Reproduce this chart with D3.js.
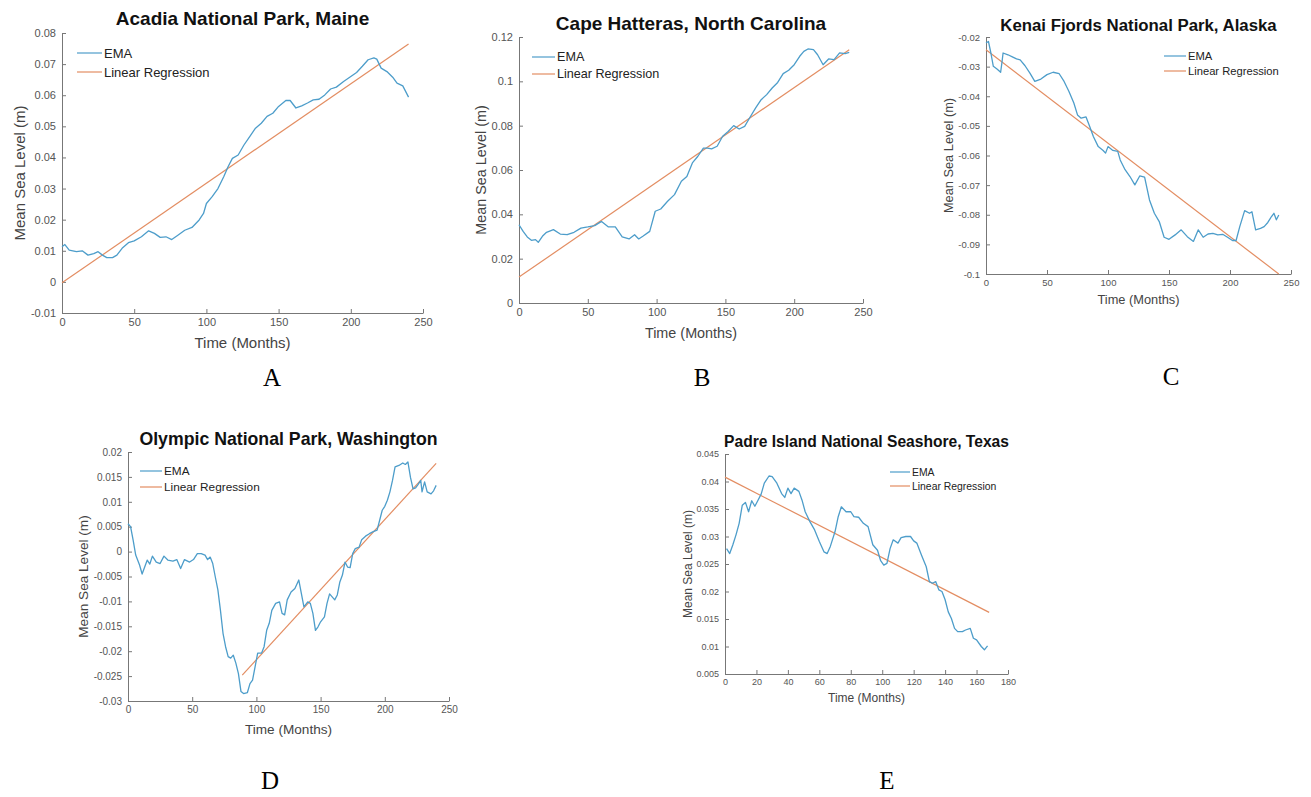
<!DOCTYPE html>
<html>
<head>
<meta charset="utf-8">
<script src="https://cdn.jsdelivr.net/npm/d3@7/dist/d3.min.js"></script>
<style>
  body { margin: 0; background: #fff; }
  text { font-family: "Liberation Sans", Arial, sans-serif; }
</style>
</head>
<body>
<script>
// page
const width = 1311, height = 797;

// data: [month, metres]
const acadiaEma = [[0,0.0113],[2,0.012],[5,0.0102],[10,0.0097],[14,0.01],[18,0.0086],[22,0.0091],[25,0.0097],[28,0.0086],
  [31,0.0078],[35,0.0078],[38,0.0086],[42,0.011],[46,0.0126],[50,0.0132],[55,0.0145],[60,0.0164],[64,0.0156],[68,0.0143],
  [72,0.0145],[76,0.0136],[80,0.0149],[85,0.0166],[90,0.0175],[95,0.0199],[98,0.022],[100,0.0252],[104,0.0274],[108,0.03],
  [112,0.0338],[115,0.037],[118,0.0397],[122,0.0408],[126,0.044],[130,0.0467],[134,0.0494],[138,0.051],[142,0.0532],
  [146,0.0542],[150,0.0564],[155,0.0583],[158,0.0583],[162,0.0559],[166,0.0566],[170,0.0575],[174,0.0585],[178,0.0587],
  [182,0.0601],[186,0.062],[190,0.0626],[195,0.0644],[200,0.066],[204,0.0673],[208,0.0693],[212,0.0714],[216,0.072],
  [218,0.0716],[221,0.0687],[225,0.0676],[229,0.0658],[232,0.0639],[236,0.063],[240,0.0594]];
const acadiaTrend = [[0,-0.0003],[240,0.0765]];

const hatterasEma = [[0,0.0353],[3,0.0323],[6,0.0298],[9,0.0283],[12,0.0286],[14,0.0274],[17,0.0301],[20,0.0319],[25,0.0331],
  [30,0.0311],[35,0.0308],[40,0.0319],[45,0.0338],[50,0.0343],[55,0.0349],[60,0.0368],[65,0.0343],[70,0.0343],[75,0.0298],
  [80,0.0289],[84,0.0308],[87,0.0289],[90,0.0301],[95,0.0323],[99,0.0414],[103,0.0424],[108,0.0459],[113,0.0489],
  [118,0.0549],[122,0.0571],[126,0.0632],[130,0.0662],[134,0.0699],[137,0.0699],[140,0.0695],[144,0.0707],[148,0.0752],
  [152,0.0774],[156,0.08],[160,0.0785],[164,0.0797],[168,0.0839],[172,0.088],[176,0.0917],[180,0.094],[184,0.097],
  [188,0.0995],[192,0.1035],[196,0.105],[200,0.1075],[204,0.1113],[207,0.1135],[210,0.1146],[214,0.1143],[217,0.112],
  [221,0.1075],[225,0.1101],[229,0.1098],[233,0.1128],[237,0.1125],[240,0.1131]];
const hatterasTrend = [[0,0.0117],[240,0.1143]];

const kenaiEma = [[0,-0.022],[2,-0.0215],[4,-0.0254],[6,-0.0299],[9,-0.0308],[12,-0.0319],[13,-0.0288],[14,-0.0254],
  [18,-0.026],[22,-0.0268],[25,-0.0274],[28,-0.0277],[32,-0.0297],[36,-0.0322],[40,-0.035],[45,-0.0342],[50,-0.0327],
  [55,-0.0319],[60,-0.0324],[64,-0.035],[68,-0.0384],[72,-0.0423],[75,-0.0463],[78,-0.0474],[82,-0.047],[85,-0.0502],
  [88,-0.0536],[92,-0.057],[96,-0.0583],[98,-0.0592],[100,-0.057],[104,-0.0583],[108,-0.0586],[110,-0.0615],[114,-0.0648],
  [118,-0.0671],[122,-0.0699],[126,-0.0669],[130,-0.0673],[134,-0.075],[138,-0.0795],[142,-0.0823],[146,-0.0876],
  [150,-0.0883],[155,-0.0868],[160,-0.0851],[165,-0.0874],[170,-0.089],[174,-0.0851],[178,-0.0876],[182,-0.0865],
  [186,-0.0863],[190,-0.0868],[194,-0.0866],[198,-0.0876],[202,-0.0887],[205,-0.0887],[208,-0.084],[212,-0.0786],
  [216,-0.0795],[218,-0.079],[221,-0.0851],[225,-0.0846],[228,-0.084],[231,-0.0826],[234,-0.0806],[236,-0.0795],
  [238,-0.0817],[240,-0.0801]];
const kenaiTrend = [[0,-0.0243],[240,-0.1]];

const olympicEma = [[0,0.0056],[2,0.005],[4,0.0023],[6,-0.0007],[9,-0.0027],[11,-0.0045],[13,-0.0031],[15,-0.0017],
  [17,-0.0025],[19,-0.0009],[22,-0.0021],[25,-0.0024],[28,-0.0009],[31,-0.0017],[35,-0.0019],[38,-0.0016],[41,-0.0034],
  [44,-0.0016],[48,-0.0021],[51,-0.0016],[54,-0.0004],[57,-0.0004],[60,-0.0007],[62,-0.0016],[64,-0.0011],[66,-0.0024],
  [68,-0.0051],[70,-0.0077],[72,-0.0118],[74,-0.0164],[76,-0.0191],[78,-0.0211],[80,-0.0214],[82,-0.0208],[84,-0.0224],
  [86,-0.0245],[88,-0.0281],[90,-0.0285],[93,-0.0283],[95,-0.0265],[97,-0.0258],[99,-0.0231],[101,-0.0204],[104,-0.0204],
  [106,-0.0191],[108,-0.0158],[110,-0.0144],[112,-0.0118],[115,-0.0104],[118,-0.0101],[120,-0.0124],[122,-0.0127],
  [124,-0.0097],[127,-0.0081],[130,-0.0074],[133,-0.0057],[135,-0.0084],[137,-0.0111],[140,-0.0101],[142,-0.0104],
  [144,-0.0124],[146,-0.0158],[148,-0.0151],[150,-0.0141],[153,-0.0131],[155,-0.0104],[157,-0.0085],[159,-0.0091],
  [161,-0.0097],[163,-0.0087],[165,-0.0061],[167,-0.0047],[169,-0.0021],[171,-0.0031],[173,-0.0032],[175,-0.0004],
  [177,0.0006],[180,0.0009],[182,0.0024],[185,0.0031],[188,0.0036],[191,0.004],[194,0.0043],[196,0.0063],[198,0.0083],
  [200,0.0091],[202,0.0103],[204,0.012],[206,0.0143],[208,0.017],[211,0.0173],[214,0.0178],[216,0.0175],[218,0.018],
  [220,0.0149],[222,0.0126],[224,0.0128],[226,0.0135],[228,0.0143],[229,0.012],[231,0.014],[233,0.012],[236,0.0116],
  [238,0.0122],[240,0.0133]];
const olympicTrend = [[89,-0.0248],[240,0.0177]];

const padreEma = [[1,0.0278],[3,0.0269],[5,0.0285],[7,0.0303],[9,0.0324],[11,0.0357],[13,0.0362],[15,0.0345],[17,0.0365],
  [19,0.0355],[21,0.0366],[23,0.0377],[25,0.0397],[28,0.041],[30,0.0409],[33,0.0397],[36,0.0378],[38,0.0371],[40,0.0388],
  [42,0.0378],[44,0.0388],[47,0.0382],[49,0.0366],[51,0.0345],[54,0.0327],[57,0.0312],[60,0.0291],[63,0.0272],[65,0.0269],
  [67,0.0282],[70,0.0309],[72,0.0336],[74,0.0354],[77,0.0345],[80,0.0345],[82,0.0336],[85,0.0335],[88,0.0324],[91,0.0318],
  [94,0.0285],[97,0.0275],[99,0.0256],[101,0.0248],[103,0.0251],[105,0.0278],[107,0.0294],[110,0.0288],[112,0.0298],
  [115,0.03],[118,0.03],[120,0.0292],[122,0.0288],[125,0.0266],[128,0.0245],[130,0.0218],[132,0.0215],[134,0.0218],
  [136,0.0203],[138,0.02],[140,0.0185],[142,0.0163],[144,0.0151],[146,0.0133],[148,0.0127],[151,0.0127],[153,0.013],
  [156,0.0133],[158,0.0115],[160,0.0112],[163,0.01],[165,0.0094],[167,0.0101]];
const padreTrend = [[0,0.0408],[168,0.0162]];

// titles and tick labels
const titles = ["Acadia National Park, Maine", "Cape Hatteras, North Carolina", "Kenai Fjords National Park, Alaska",
  "Olympic National Park, Washington", "Padre Island National Seashore, Texas"];
const letters = ["A", "B", "C", "D", "E"];
const seriesNames = ["EMA", "Linear Regression"];
const monthTicks250 = [0, 50, 100, 150, 200, 250];
const monthTicks180 = [0, 20, 40, 60, 80, 100, 120, 140, 160, 180];
const acadiaTicks = [-0.01, 0, 0.01, 0.02, 0.03, 0.04, 0.05, 0.06, 0.07, 0.08];
const hatterasTicks = [0, 0.02, 0.04, 0.06, 0.08, 0.1, 0.12];
const kenaiTicks = [-0.1, -0.09, -0.08, -0.07, -0.06, -0.05, -0.04, -0.03, -0.02];
const olympicTicks = [-0.03, -0.025, -0.02, -0.015, -0.01, -0.005, 0, 0.005, 0.01, 0.015, 0.02];
const padreTicks = [0.005, 0.01, 0.015, 0.02, 0.025, 0.03, 0.035, 0.04, 0.045];

// colours
const emaColor = "#4d9dca", trendColor = "#e38d62";

// elements
const svg = d3.select("body").append("svg")
  .attr("width", width)
  .attr("height", height);

const panels = [
  { ema: acadiaEma, trend: acadiaTrend, xTicks: monthTicks250, yTicks: acadiaTicks,
    box: [62, 423, 33, 313], titleY: 25, titleSize: 19, tick: 11, label: 15, ylabelX: 20, xlabelY: 343,
    legend: [77, 102, 53, 19, 13], letter: [272, 386] },
  { ema: hatterasEma, trend: hatterasTrend, xTicks: monthTicks250, yTicks: hatterasTicks,
    box: [519, 863, 37, 303], titleY: 30, titleSize: 19, tick: 11, label: 14.4, ylabelX: 481, xlabelY: 333,
    legend: [532, 555, 57, 17, 12.6], letter: [702, 386] },
  { ema: kenaiEma, trend: kenaiTrend, xTicks: monthTicks250, yTicks: kenaiTicks,
    box: [986, 1291, 37, 274], titleY: 31, titleSize: 16.8, tick: 9.5, label: 12.8, ylabelX: 949, xlabelY: 300,
    legend: [1164, 1186, 56, 15, 11.2], letter: [1171, 385] },
  { ema: olympicEma, trend: olympicTrend, xTicks: monthTicks250, yTicks: olympicTicks,
    box: [128, 449, 452, 701], titleY: 445, titleSize: 17.7, tick: 10, label: 13.6, ylabelX: 83, xlabelY: 729,
    legend: [140, 162, 471, 16, 11.8], letter: [270, 789] },
  { ema: padreEma, trend: padreTrend, xTicks: monthTicks180, yTicks: padreTicks,
    box: [725, 1008, 454, 674], titleY: 447, titleSize: 15.6, tick: 9, label: 12, ylabelX: 688, xlabelY: 698,
    legend: [890, 910, 472, 14, 10.4], letter: [887, 789] }
];

const fmt = d => String(+d.toFixed(4));

const drawPanel = (p, i) => {
  const [x0, x1, y0, y1] = p.box;
  const xScale = d3.scaleLinear()
    .domain(d3.extent(p.xTicks))
    .range([x0, x1]);
  const yScale = d3.scaleLinear()
    .domain(d3.extent(p.yTicks))
    .range([y1, y0]);

  const g = svg.append("g");

  // axes, ticks point inward like matlab
  const xAxis = g.append("g")
    .attr("transform", `translate(0, ${y1})`)
    .call(d3.axisBottom(xScale).tickValues(p.xTicks).tickFormat(fmt)
      .tickSizeInner(-4).tickSizeOuter(0).tickPadding(5));
  const yAxis = g.append("g")
    .attr("transform", `translate(${x0}, 0)`)
    .call(d3.axisLeft(yScale).tickValues(p.yTicks).tickFormat(fmt)
      .tickSizeInner(-4).tickSizeOuter(0).tickPadding(6));
  [xAxis, yAxis].forEach(a => {
    a.select(".domain").attr("stroke", "#777");
    a.selectAll(".tick line").attr("stroke", "#777");
    a.selectAll(".tick text")
      .attr("fill", "#555")
      .style("font-size", p.tick + "px")
      .style("font-family", '"Liberation Sans", Arial, sans-serif');
  });

  // lines
  const line = d3.line()
    .x(d => xScale(d[0]))
    .y(d => yScale(d[1]));
  g.append("path")
    .datum(p.trend)
    .attr("d", line)
    .attr("fill", "none")
    .attr("stroke", trendColor)
    .attr("stroke-width", 1.2);
  g.append("path")
    .datum(p.ema)
    .attr("d", line)
    .attr("fill", "none")
    .attr("stroke", emaColor)
    .attr("stroke-width", 1.3)
    .attr("stroke-linejoin", "round");

  // title and axis labels
  g.append("text")
    .attr("x", (x0 + x1) / 2)
    .attr("y", p.titleY)
    .attr("text-anchor", "middle")
    .style("font-weight", "bold")
    .style("font-size", p.titleSize + "px")
    .attr("fill", "#111")
    .text(titles[i]);
  g.append("text")
    .attr("x", (x0 + x1) / 2)
    .attr("y", p.xlabelY)
    .attr("dy", "0.35em")
    .attr("text-anchor", "middle")
    .style("font-size", p.label + "px")
    .attr("fill", "#444")
    .text("Time (Months)");
  g.append("text")
    .attr("transform", `translate(${p.ylabelX}, ${(y0 + y1) / 2}) rotate(-90)`)
    .attr("dy", "0.35em")
    .attr("text-anchor", "middle")
    .style("font-size", p.label + "px")
    .attr("fill", "#444")
    .text("Mean Sea Level (m)");

  // legend
  const [lx0, lx1, ly, gap, lsize] = p.legend;
  [emaColor, trendColor].forEach((c, k) => {
    g.append("line")
      .attr("x1", lx0).attr("x2", lx1)
      .attr("y1", ly + k * gap).attr("y2", ly + k * gap)
      .attr("stroke", c)
      .attr("stroke-width", 1.2);
    g.append("text")
      .attr("x", lx1 + 2)
      .attr("y", ly + k * gap)
      .attr("dy", "0.35em")
      .style("font-size", lsize + "px")
      .attr("fill", "#222")
      .text(seriesNames[k]);
  });

  // panel letter
  g.append("text")
    .attr("x", p.letter[0])
    .attr("y", p.letter[1])
    .attr("text-anchor", "middle")
    .style("font-family", '"Liberation Serif", "Times New Roman", serif')
    .style("font-size", "25px")
    .attr("fill", "#000")
    .text(letters[i]);
};

panels.forEach(drawPanel);
</script>
</body>
</html>
